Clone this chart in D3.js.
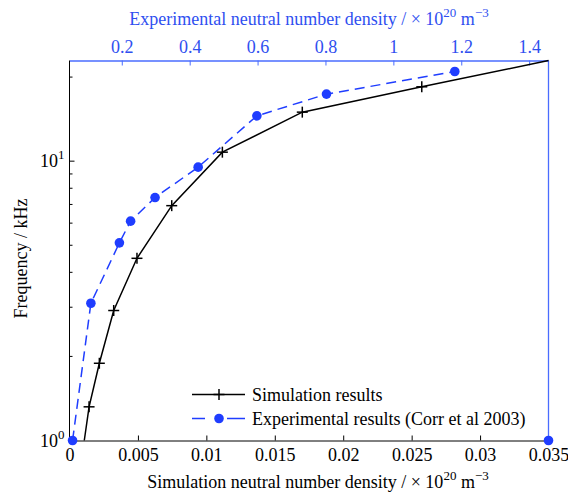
<!DOCTYPE html>
<html>
<head>
<meta charset="utf-8">
<script src="https://cdn.jsdelivr.net/npm/d3@7"></script>
<style>
  html, body { margin: 0; padding: 0; background: #fff; }
  svg text { font-family: "Liberation Serif", "DejaVu Serif", serif !important; }
</style>
</head>
<body>
<svg id="chart" width="568" height="497"></svg>
<script>
// Simulation results (bottom axis, ×10^20 m^-3) vs frequency (kHz)
const simDensity = [0.00108, 0.00143, 0.00218, 0.00323, 0.00493, 0.00747, 0.01117, 0.01701, 0.02574, 0.035];
const simFreq    = [1, 1.32, 1.89, 2.92, 4.49, 6.93, 10.77, 14.98, 18.46, 22.93];

// Experimental results, Corr et al 2003 (top axis, ×10^20 m^-3)
const expDensity = [0.055, 0.109, 0.193, 0.226, 0.298, 0.425, 0.598, 0.803, 1.181];
const expFreq    = [1, 3.10, 5.10, 6.10, 7.41, 9.52, 14.53, 17.38, 20.94];

// Stray experimental marker sitting on the lower-right corner
const expEdgeDensity = [1.457];
const expEdgeFreq    = [1];

// Axis ranges and ticks
const simDomain = [0, 0.035];
const expDomain = [0.046, 1.457];
const simTicks = [0, 0.005, 0.01, 0.015, 0.02, 0.025, 0.03, 0.035];
const expTicks = [0.2, 0.4, 0.6, 0.8, 1, 1.2, 1.4];
const freqMajor = [1, 10];
const freqMinor = [2, 3, 4, 5, 6, 7, 8, 9, 20];

const legendLabels = ["Simulation results", "Experimental results (Corr et al 2003)"];

const BLACK = "#000";
const BLUE = "#1f3dff";
const BLUE_AXIS = "#4a6cff";
const BLUE_TEXT = "#2f4ff0";
const FS = 18, FS_SUP = 13;

const svg = d3.select("#chart");
const L = 69.5, R = 548.5, T = 60.5, B = 440.5;

const x = d3.scaleLinear().domain(simDomain).range([L, R]);
const xTop = d3.scaleLinear().domain(expDomain).range([L, R]);
const y = d3.scaleLog().domain([1, d3.max(simFreq)]).range([B, T]);

// Bottom axis (simulation)
const bottomAxis = d3.axisBottom(x).tickValues(simTicks).tickSizeInner(-5).tickSizeOuter(0)
  .tickPadding(8).tickFormat(d => d === 0 ? "0" : d3.format("")(+d.toFixed(3)));
const gb = svg.append("g").attr("transform", `translate(0,${B})`).call(bottomAxis);
gb.select(".domain").attr("stroke", BLACK);
gb.selectAll(".tick line").attr("stroke", BLACK).filter(d => d === 0 || d === 0.035).remove();
gb.selectAll(".tick text").attr("font-size", FS).attr("fill", BLACK);

// Left axis (log frequency)
const gl = svg.append("g").attr("transform", `translate(${L},0)`);
gl.append("line").attr("x1", 0).attr("x2", 0).attr("y1", T).attr("y2", B).attr("stroke", BLACK);
gl.selectAll("line.major").data(freqMajor).join("line").attr("class", "major")
  .attr("x1", 0).attr("x2", 5).attr("y1", d => y(d)).attr("y2", d => y(d)).attr("stroke", BLACK);
gl.selectAll("line.minor").data(freqMinor).join("line").attr("class", "minor")
  .attr("x1", 0).attr("x2", 3).attr("y1", d => y(d)).attr("y2", d => y(d)).attr("stroke", BLACK);
const ylab = gl.selectAll("text.ylab").data(freqMajor).join("text").attr("class", "ylab")
  .attr("x", -5).attr("y", d => y(d) + 6).attr("text-anchor", "end").attr("font-size", FS).attr("fill", BLACK);
ylab.append("tspan").text("10");
ylab.append("tspan").attr("font-size", FS_SUP).attr("dy", -8).text(d => Math.round(Math.log10(d)));

// Top axis (experimental), blue
const topAxis = d3.axisTop(xTop).tickValues(expTicks).tickSizeInner(-5).tickSizeOuter(0)
  .tickPadding(8).tickFormat(d => d3.format("")(+d.toFixed(1)));
const gt = svg.append("g").attr("transform", `translate(0,${T})`).call(topAxis);
gt.select(".domain").attr("stroke", BLUE_AXIS).attr("stroke-width", 1.3);
gt.selectAll(".tick line").attr("stroke", BLUE_AXIS);
gt.selectAll(".tick text").attr("font-size", FS).attr("fill", BLUE_TEXT);

// Right edge of the experimental axes box
svg.append("line").attr("x1", R).attr("x2", R).attr("y1", T).attr("y2", B)
  .attr("stroke", BLUE_AXIS).attr("stroke-width", 1.3);

// Experimental series: dashed line with dot markers
const expPts = expDensity.map((d, i) => [xTop(d), y(expFreq[i])]);
svg.append("path").attr("d", d3.line()(expPts)).attr("fill", "none")
  .attr("stroke", BLUE).attr("stroke-width", 1.5).attr("stroke-dasharray", "10,6");
svg.selectAll("circle.exp").data(expPts).join("circle").attr("class", "exp")
  .attr("cx", d => d[0]).attr("cy", d => d[1]).attr("r", 4.8).attr("fill", BLUE);
svg.selectAll("circle.edge").data(expEdgeDensity).join("circle").attr("class", "edge")
  .attr("cx", d => xTop(d)).attr("cy", (d, i) => y(expEdgeFreq[i])).attr("r", 4.8).attr("fill", BLUE);

// Simulation series: solid line with plus markers
const simPts = simDensity.map((d, i) => [x(d), y(simFreq[i])]);
svg.append("path").attr("d", d3.line()(simPts)).attr("fill", "none")
  .attr("stroke", BLACK).attr("stroke-width", 1.5);
const plus = (g, px, py, s) => {
  g.append("line").attr("x1", px - s).attr("x2", px + s).attr("y1", py).attr("y2", py);
  g.append("line").attr("x1", px).attr("x2", px).attr("y1", py - s).attr("y2", py + s);
};
const gp = svg.append("g").attr("stroke", BLACK).attr("stroke-width", 1.5);
simPts.slice(1, -1).forEach(p => plus(gp, p[0], p[1], 5.5));

// Legend
const lg = svg.append("g");
const ly1 = 394.5, ly2 = 418.5, lx0 = 192, lx1 = 245, lxm = 219, ltx = 252;
lg.append("line").attr("x1", lx0).attr("x2", lx1).attr("y1", ly1).attr("y2", ly1)
  .attr("stroke", BLACK).attr("stroke-width", 1.5);
plus(lg.append("g").attr("stroke", BLACK).attr("stroke-width", 1.5), lxm, ly1, 5.5);
lg.append("line").attr("x1", lx0).attr("x2", lx1).attr("y1", ly2).attr("y2", ly2)
  .attr("stroke", BLUE).attr("stroke-width", 1.5).attr("stroke-dasharray", "13,22,18");
lg.append("circle").attr("cx", lxm).attr("cy", ly2).attr("r", 4.8).attr("fill", BLUE);
lg.selectAll("text").data(legendLabels).join("text")
  .attr("x", ltx).attr("y", (d, i) => (i === 0 ? ly1 : ly2) + 6)
  .attr("font-size", FS).attr("fill", BLACK).text(d => d);

// Axis titles
const sup = (t, base, exp1, mid, exp2) => {
  t.append("tspan").text(base);
  t.append("tspan").attr("font-size", FS_SUP).attr("dy", -8).text(exp1);
  t.append("tspan").attr("dy", 8).text(mid);
  t.append("tspan").attr("font-size", FS_SUP).attr("dy", -8).text(exp2);
};
const bt = svg.append("text").attr("x", 318).attr("y", 488).attr("text-anchor", "middle")
  .attr("font-size", FS).attr("fill", BLACK);
sup(bt, "Simulation neutral number density / \u00d7 10", "20", " m", "\u22123");

const tt = svg.append("text").attr("x", 309).attr("y", 25).attr("text-anchor", "middle")
  .attr("font-size", FS).attr("fill", BLUE_TEXT);
sup(tt, "Experimental neutral number density / \u00d7 10", "20", " m", "\u22123");

svg.append("text").attr("transform", `translate(27,${(T + B) / 2 + 8}) rotate(-90)`)
  .attr("text-anchor", "middle").attr("font-size", FS).attr("fill", BLACK).text("Frequency / kHz");
</script>
</body>
</html>
